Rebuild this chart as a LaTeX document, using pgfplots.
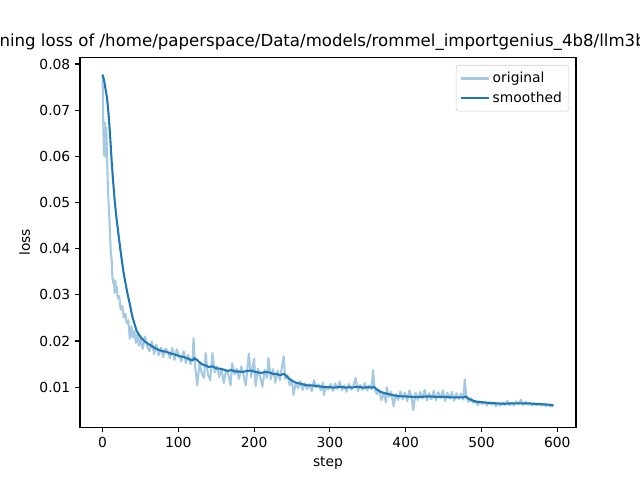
\documentclass[border=0pt]{standalone}
\usepackage{pgfplots}
\pgfplotsset{compat=1.18}
\usepackage{fontspec}
\setmainfont{DejaVu Sans}
\definecolor{tabblue}{HTML}{1F77B4}
\definecolor{lightblue}{HTML}{A5C9E1}
\begin{document}
\begin{tikzpicture}
\useasboundingbox (0,0) rectangle (6.4in,4.8in);
\clip (0,0) rectangle (6.4in,4.8in);
\begin{axis}[
  at={(0.8in,0.528in)}, anchor=south west,
  scale only axis, width=4.96in, height=3.696in,
  xmin=-29.75, xmax=624.75, ymin=0.00133, ymax=0.0814,
  axis line style={line width=0.8pt},
  tick pos=left, tick align=outside,
  major tick length=3.5pt,
  every tick/.style={black, line width=0.8pt},
  xtick={0,100,200,300,400,500,600},
  ytick={0.01,0.02,0.03,0.04,0.05,0.06,0.07,0.08},
  yticklabel style={/pgf/number format/fixed, /pgf/number format/precision=2, /pgf/number format/fixed zerofill},
  scaled y ticks=false,
  /pgf/number format/assume math mode=true,
  ticklabel style={font=\fontsize{10}{12}\selectfont},
  label style={font=\fontsize{10}{12}\selectfont},
  xlabel={step}, ylabel={loss},
  title={Training loss of /home/paperspace/Data/models/rommel\_importgenius\_4b8/llm3b\_lora},
  title style={at={(0.5,1)}, anchor=base, yshift=1.9pt, inner sep=0pt, font=\fontsize{12}{14}\selectfont},
  legend style={at={(0.986,0.98)}, anchor=north east, draw=black!20, rounded corners=2pt, font=\fontsize{10}{12}\selectfont, row sep=1pt, inner sep=3pt},
  legend image code/.code={\draw[#1] (0pt,0pt) -- (20pt,0pt);},
  legend cell align=left,
]
\addplot[lightblue, line width=1.5pt, line join=round] coordinates {
(0,0.0777)(1,0.0668)(2,0.0602)(3,0.0673)(4,0.0598)(5,0.0662)(6,0.0597)(7,0.0535)(8,0.0498)(9,0.0468)
(10,0.0425)(11,0.0388)(12,0.0378)(13,0.0338)(14,0.0325)(15,0.0332)(16,0.0304)(17,0.0331)(18,0.0306)(19,0.0318)
(20,0.0292)(22,0.0297)(24,0.0268)(26,0.0276)(28,0.0251)(30,0.0259)(32,0.0238)(34,0.0245)(36,0.0205)(38,0.0232)
(40,0.0208)(42,0.0221)(44,0.0196)(46,0.0214)(48,0.0190)(50,0.0205)(53,0.0183)(56,0.0210)(59,0.0188)(62,0.0178)
(65,0.0199)(68,0.0172)(71,0.0192)(74,0.0169)(77,0.0186)(80,0.0165)(83,0.0184)(86,0.0177)(89,0.0163)(92,0.0185)
(95,0.0159)(98,0.0182)(101,0.0167)(104,0.0156)(107,0.0178)(110,0.0152)(113,0.0170)(116,0.0150)(119,0.0165)(120,0.0206)
(122,0.0148)(125,0.0104)(128,0.0152)(131,0.0130)(134,0.0120)(136,0.0174)(139,0.0128)(142,0.0115)(145,0.0174)(148,0.0132)
(151,0.0145)(154,0.0122)(157,0.0141)(160,0.0109)(163,0.0138)(166,0.0127)(169,0.0104)(171,0.0152)(174,0.0128)(177,0.0140)
(180,0.0118)(183,0.0145)(186,0.0127)(189,0.0104)(193,0.0173)(196,0.0122)(200,0.0162)(202,0.0102)(205,0.0140)(208,0.0122)
(211,0.0101)(214,0.0138)(217,0.0120)(219,0.0163)(222,0.0117)(225,0.0139)(228,0.0110)(231,0.0136)(234,0.0115)(237,0.0148)
(239,0.0167)(241,0.0118)(244,0.0126)(247,0.0104)(250,0.0115)(252,0.0083)(255,0.0110)(258,0.0098)(261,0.0113)(264,0.0094)
(267,0.0108)(270,0.0096)(273,0.0107)(276,0.0091)(279,0.0115)(282,0.0099)(285,0.0106)(288,0.0093)(291,0.0110)(292,0.0083)
(295,0.0102)(298,0.0095)(301,0.0107)(304,0.0092)(307,0.0108)(310,0.0096)(313,0.0112)(316,0.0093)(319,0.0104)(322,0.0090)
(325,0.0107)(328,0.0095)(331,0.0103)(334,0.0120)(337,0.0091)(340,0.0105)(343,0.0094)(346,0.0109)(349,0.0093)(352,0.0104)
(355,0.0096)(357,0.0137)(359,0.0096)(362,0.0085)(365,0.0093)(368,0.0072)(371,0.0088)(374,0.0067)(375,0.0100)(378,0.0079)
(381,0.0090)(384,0.0059)(387,0.0085)(390,0.0072)(393,0.0091)(396,0.0074)(399,0.0088)(402,0.0070)(405,0.0093)(408,0.0076)
(410,0.0050)(413,0.0088)(416,0.0072)(419,0.0090)(422,0.0075)(425,0.0094)(428,0.0071)(431,0.0087)(434,0.0074)(437,0.0092)
(440,0.0072)(443,0.0089)(446,0.0076)(449,0.0093)(452,0.0070)(455,0.0088)(458,0.0075)(461,0.0090)(464,0.0071)(467,0.0087)
(470,0.0074)(473,0.0086)(476,0.0073)(478,0.0117)(480,0.0080)(483,0.0068)(486,0.0076)(489,0.0066)(492,0.0071)(495,0.0061)
(498,0.0069)(501,0.0063)(504,0.0068)(507,0.0060)(510,0.0067)(513,0.0062)(516,0.0066)(519,0.0059)(522,0.0064)(525,0.0060)
(528,0.0067)(531,0.0062)(534,0.0070)(537,0.0061)(540,0.0066)(543,0.0060)(546,0.0069)(549,0.0063)(552,0.0073)(555,0.0061)
(558,0.0068)(561,0.0062)(564,0.0066)(567,0.0060)(570,0.0065)(573,0.0061)(576,0.0064)(579,0.0060)(582,0.0063)(585,0.0059)
(588,0.0062)(591,0.0058)(594,0.0062)(595,0.0060)
};
\addlegendentry{original}
\addplot[tabblue, line width=1.5pt, line join=round] coordinates {
(0,0.0777)(2,0.0765)(4,0.0745)(6,0.0726)(8,0.0690)(10,0.0645)(12,0.0590)(14,0.0545)(16,0.0505)(18,0.0472)
(20,0.0445)(22,0.0418)(24,0.0392)(26,0.0368)(28,0.0346)(30,0.0328)(33,0.0302)(36,0.0280)(39,0.0255)(42,0.0238)
(45,0.0222)(48,0.0214)(51,0.0207)(55,0.0200)(60,0.0194)(65,0.0189)(70,0.0184)(75,0.0180)(80,0.0178)(85,0.0176)
(90,0.0173)(95,0.0171)(100,0.0168)(105,0.0166)(110,0.0164)(115,0.0160)(119,0.0158)(121,0.0163)(124,0.0160)(128,0.0154)
(132,0.0149)(136,0.0147)(140,0.0144)(145,0.0145)(150,0.0141)(155,0.0140)(160,0.0138)(165,0.0135)(170,0.0137)(175,0.0134)
(180,0.0134)(185,0.0133)(190,0.0135)(195,0.0136)(200,0.0134)(205,0.0132)(210,0.0131)(215,0.0133)(220,0.0132)(225,0.0129)
(230,0.0128)(235,0.0126)(239,0.0129)(242,0.0125)(246,0.0119)(250,0.0114)(255,0.0110)(260,0.0108)(265,0.0106)(270,0.0104)
(275,0.0104)(280,0.0103)(285,0.0102)(290,0.0101)(295,0.0100)(300,0.0100)(305,0.0099)(310,0.0100)(315,0.0101)(320,0.0099)
(325,0.0100)(330,0.0099)(335,0.0101)(340,0.0100)(345,0.0099)(350,0.0100)(356,0.0099)(358,0.0101)(362,0.0095)(366,0.0091)
(370,0.0088)(375,0.0086)(380,0.0084)(385,0.0082)(390,0.0081)(395,0.0080)(400,0.0080)(410,0.0079)(420,0.0079)(430,0.0080)
(440,0.0079)(450,0.0079)(460,0.0078)(470,0.0078)(477,0.0078)(479,0.0080)(483,0.0075)(487,0.0072)(492,0.0069)(497,0.0068)
(503,0.0067)(510,0.0066)(520,0.0065)(530,0.0064)(540,0.0065)(550,0.0065)(560,0.0065)(570,0.0064)(580,0.0063)(590,0.0062)
(595,0.0060)
};
\addlegendentry{smoothed}
\end{axis}
\end{tikzpicture}
\end{document}
